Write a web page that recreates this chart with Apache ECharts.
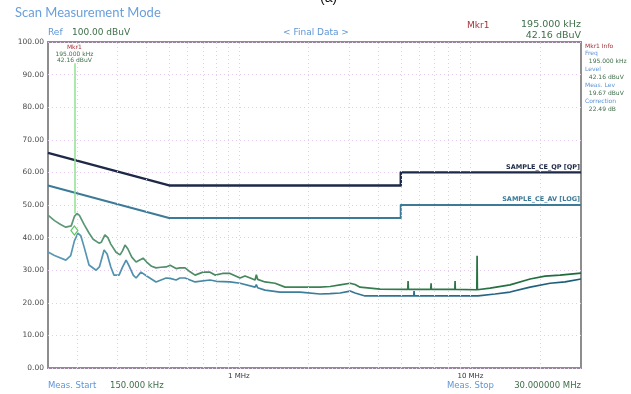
<!DOCTYPE html>
<html>
<head>
<meta charset="utf-8">
<script src="https://cdn.jsdelivr.net/npm/echarts@6/dist/echarts.min.js"></script>
<style>
  html, body { margin: 0; padding: 0; background: #fff; }
  #chart { width: 631px; height: 394px; }
</style>
</head>
<body>
<div id="chart"></div>
<script>
// Conducted emission scan, 150 kHz .. 30 MHz (frequencies in MHz, levels in dBuV)

// Limit lines
const qpLimit = [[0.15, 66], [0.5, 56], [5, 56], [5, 60], [30, 60]];
const avLimit = [[0.15, 56], [0.5, 46], [5, 46], [5, 50], [30, 50]];

// Peak trace (upper)
const peakTrace = [
  [0.15, 46.9], [0.16, 45.2], [0.17, 44.0], [0.179, 43.2], [0.189, 43.6], [0.195, 46.5],
  [0.2, 47.4], [0.205, 46.8], [0.215, 44.0], [0.2255, 41.4], [0.235, 39.5], [0.249, 38.3],
  [0.255, 38.6], [0.264, 40.8], [0.272, 40.0], [0.28, 38.0], [0.295, 35.5], [0.307, 34.7],
  [0.315, 36.0], [0.3225, 37.7], [0.332, 36.5], [0.345, 34.0], [0.36, 32.5], [0.37, 33.0],
  [0.386, 33.7], [0.4, 32.5], [0.42, 31.2], [0.439, 30.7], [0.46, 30.9], [0.485, 31.0],
  [0.505, 31.5], [0.536, 30.5], [0.557, 30.7], [0.586, 30.7], [0.616, 29.5], [0.647, 28.5],
  [0.7, 29.4], [0.751, 29.4], [0.789, 28.5], [0.85, 29.0], [0.916, 29.0], [1.012, 27.6],
  [1.063, 28.2], [1.12, 27.6], [1.175, 27.0], [1.19, 28.6], [1.205, 27.2], [1.297, 26.4],
  [1.433, 26.0], [1.583, 24.8], [1.837, 24.8], [2.241, 24.8], [2.476, 25.0], [2.735, 25.5],
  [3.021, 26.0], [3.175, 25.6], [3.336, 24.8], [4.071, 24.2], [5.36, 24.1], [5.378, 26.7],
  [5.396, 24.1], [5.7, 24.1], [6.74, 24.1], [6.759, 26.0], [6.78, 24.1], [8.56, 24.1],
  [8.58, 26.7], [8.6, 24.1], [10.65, 24.0], [10.68, 34.4], [10.71, 24.0], [12.15, 24.5],
  [14.82, 25.5], [18.09, 27.3], [20.98, 28.2], [24.36, 28.5], [30, 29.1]
];

// Average trace (lower)
const avgTrace = [
  [0.15, 35.6], [0.16, 34.5], [0.179, 33.1], [0.188, 34.5], [0.195, 39.0], [0.202, 41.4],
  [0.208, 40.5], [0.215, 37.0], [0.2255, 31.6], [0.242, 30.0], [0.25, 31.0], [0.262, 36.2],
  [0.27, 35.0], [0.28, 31.0], [0.289, 28.5], [0.304, 28.5], [0.315, 31.0], [0.326, 33.1],
  [0.335, 31.5], [0.35, 28.5], [0.36, 27.6], [0.378, 29.4], [0.4, 28.2], [0.439, 26.4],
  [0.485, 27.6], [0.505, 27.5], [0.536, 27.0], [0.557, 27.6], [0.586, 27.6], [0.647, 26.4],
  [0.751, 27.0], [0.8, 26.6], [0.916, 26.4], [1.012, 26.0], [1.175, 24.8], [1.19, 25.6],
  [1.205, 24.6], [1.297, 23.9], [1.506, 23.3], [1.837, 23.3], [2.241, 22.7], [2.476, 22.8],
  [2.735, 23.0], [3.021, 23.6], [3.175, 23.0], [3.506, 22.1], [5.69, 22.1], [5.708, 23.6],
  [5.726, 22.1], [10.78, 22.1], [12.77, 22.7], [14.82, 23.3], [18.09, 24.8], [22.06, 26.0],
  [25.61, 26.4], [30, 27.3]
];

// Marker 1
const markerFreq = 0.195;
const markerLevel = 42.16;
const markerLineTop = 93.5;
const markerLineBottom = 47.4;

// Axis ticks and grid
const gridFreqs = [0.2, 0.3, 0.4, 0.5, 0.6, 0.7, 0.8, 0.9, 1, 2, 3, 4, 5, 6, 7, 8, 9, 10, 20];
const xTickFreqs = [1, 10];
const xTickLabels = ['1 MHz', '10 MHz'];
const yMin = 0, yMax = 100, yStep = 10;

const F = 'DejaVu Sans';
const BLUE = '#5e95d6';
const GREEN = '#3f6e4a';
const RED = '#a4343a';

const chart = echarts.init(document.getElementById('chart'), null, { renderer: 'canvas' });

const info = [
  ['Mkr1 Info', RED], ['Freq', BLUE], ['  195.000 kHz', GREEN], ['Level', BLUE],
  ['  42.16 dBuV', GREEN], ['Meas. Lev', BLUE], ['  19.67 dBuV', GREEN],
  ['Correction', BLUE], ['  22.49 dB', GREEN]
];

const graphics = [
  { type: 'text', left: 320, top: -9, style: { text: '(a)', font: '14px "Liberation Sans"', fill: '#111' } },
  { type: 'text', left: 15, top: 6, style: { text: 'Scan Measurement Mode', font: '13px Lato', fill: '#6a9fdc' } },
  { type: 'text', left: 48, top: 28, style: { text: 'Ref', font: '9px ' + F, fill: BLUE } },
  { type: 'text', left: 72, top: 28, style: { text: '100.00 dBuV', font: '9px ' + F, fill: GREEN } },
  { type: 'text', left: 283, top: 28, style: { text: '< Final Data >', font: '9px ' + F, fill: BLUE } },
  { type: 'text', left: 467, top: 21, style: { text: 'Mkr1', font: '9px ' + F, fill: RED } },
  { type: 'text', right: 50, top: 20, style: { text: '195.000 kHz', font: '9.5px ' + F, fill: GREEN, align: 'right' } },
  { type: 'text', right: 50, top: 31, style: { text: '42.16 dBuV', font: '9.5px ' + F, fill: GREEN, align: 'right' } },
  { type: 'text', left: 48, top: 381, style: { text: 'Meas. Start', font: '8.5px ' + F, fill: BLUE } },
  { type: 'text', left: 110, top: 381, style: { text: '150.000 kHz', font: '8.5px ' + F, fill: GREEN } },
  { type: 'text', left: 447, top: 381, style: { text: 'Meas. Stop', font: '8.5px ' + F, fill: BLUE } },
  { type: 'text', right: 50, top: 381, style: { text: '30.000000 MHz', font: '8.5px ' + F, fill: GREEN, align: 'right' } }
];
info.forEach((row, i) => {
  graphics.push({ type: 'text', left: 585, top: 43 + i * 7.9,
    style: { text: row[0], font: '6px ' + F, fill: row[1] } });
});

const option = {
  animation: false,
  backgroundColor: '#fff',
  grid: { left: 48, right: 50, top: 42, bottom: 26, show: true, borderColor: '#8d8d8d', borderWidth: 2, backgroundColor: 'transparent' },
  xAxis: {
    type: 'log', logBase: 10, min: 0.15, max: 30,
    axisLine: { show: false }, axisTick: { show: false }, splitLine: { show: false },
    axisLabel: {
      color: '#333', fontSize: 7, fontFamily: F, margin: 5,
      showMinLabel: false, showMaxLabel: false,
      formatter: v => {
        const i = xTickFreqs.findIndex(f => Math.abs(f - v) / f < 1e-6);
        return i >= 0 ? xTickLabels[i] : '';
      }
    }
  },
  yAxis: {
    type: 'value', min: yMin, max: yMax, interval: yStep,
    axisLine: { show: false }, axisTick: { show: false },
    splitLine: { show: true, lineStyle: { color: '#e5c9ef', type: [1, 3], width: 1 } },
    axisLabel: { color: '#4a4a4a', fontSize: 7.5, fontFamily: F, margin: 4, formatter: v => v.toFixed(2) }
  },
  graphic: graphics,
  series: [
    {
      // vertical frequency grid
      type: 'line', data: [], silent: true, z: 1,
      markLine: {
        silent: true, symbol: 'none', label: { show: false },
        lineStyle: { color: '#e5c9ef', type: [1, 3], width: 1 },
        data: gridFreqs.map(f => ({ xAxis: f }))
      }
    },
    {
      name: 'SAMPLE_CE_QP [QP]', type: 'line', data: qpLimit, symbol: 'none', z: 3,
      lineStyle: { color: '#1d2947', width: 2.4, join: 'round' },
      markPoint: {
        symbolSize: 0, silent: true,
        label: { show: true, position: [-1, -2], align: 'right', verticalAlign: 'bottom',
          formatter: 'SAMPLE_CE_QP [QP]', color: '#1d2947', fontSize: 6.5, fontWeight: 'bold', fontFamily: F },
        data: [{ coord: [30, 60] }]
      }
    },
    {
      name: 'SAMPLE_CE_AV [LOG]', type: 'line', data: avLimit, symbol: 'none', z: 3,
      lineStyle: { color: '#3c7a98', width: 2, join: 'round' },
      markPoint: {
        symbolSize: 0, silent: true,
        label: { show: true, position: [-1, -2], align: 'right', verticalAlign: 'bottom',
          formatter: 'SAMPLE_CE_AV [LOG]', color: '#3c7a98', fontSize: 6.5, fontWeight: 'bold', fontFamily: F },
        data: [{ coord: [30, 50] }]
      }
    },
    {
      name: 'Peak', type: 'line', data: peakTrace, symbol: 'none', z: 4,
      lineStyle: { width: 1.7, color: new echarts.graphic.LinearGradient(0, 0, 1, 0, [
        { offset: 0, color: '#5f9a7c' }, { offset: 0.45, color: '#3f8356' }, { offset: 1, color: '#1c6a3a' }]) },
      markLine: {
        silent: true, symbol: 'none', label: { show: false },
        lineStyle: { color: '#8fe08f', type: 'solid', width: 1.5 },
        data: [[{ coord: [markerFreq, markerLineTop] }, { coord: [markerFreq, markerLineBottom] }]]
      },
      markPoint: {
        silent: true,
        data: [
          { coord: [markerFreq, markerLevel], symbol: 'diamond', symbolSize: [7, 9],
            itemStyle: { color: 'rgba(255,255,255,0)', borderColor: '#66c466', borderWidth: 1.2 },
            label: { show: false } },
          { coord: [markerFreq, markerLineTop], symbolSize: 0,
            label: { show: true, position: [0, 1], align: 'center', verticalAlign: 'bottom',
              fontFamily: F, fontSize: 6, lineHeight: 6.8,
              formatter: '{r|Mkr1}\n{g|195.000 kHz}\n{g|42.16 dBuV}',
              rich: { r: { color: RED, fontSize: 6, fontFamily: F, lineHeight: 6.8 },
                      g: { color: GREEN, fontSize: 6, fontFamily: F, lineHeight: 6.8 } } } }
        ]
      }
    },
    {
      name: 'Average', type: 'line', data: avgTrace, symbol: 'none', z: 4,
      lineStyle: { width: 1.7, color: new echarts.graphic.LinearGradient(0, 0, 1, 0, [
        { offset: 0, color: '#5b9ab6' }, { offset: 0.45, color: '#3c7f9c' }, { offset: 1, color: '#1b5a78' }]) }
    }
  ]
};

chart.setOption(option);
</script>
</body>
</html>
